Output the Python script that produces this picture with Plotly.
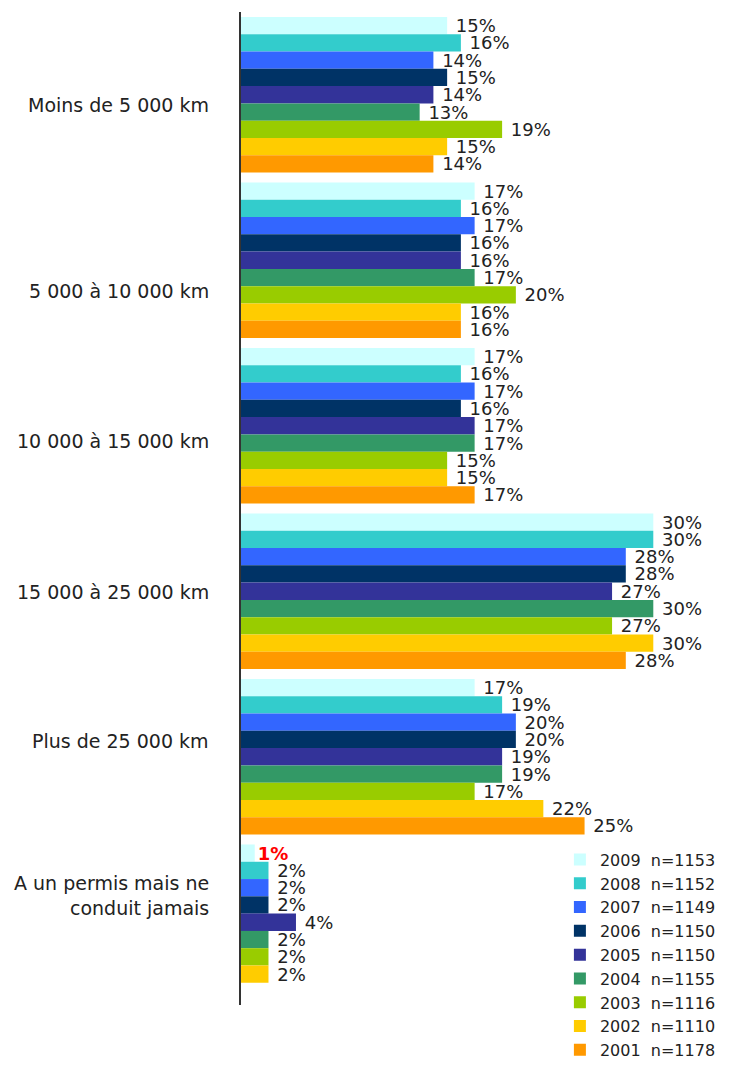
import plotly.graph_objects as go

categories = [
    "Moins de 5 000 km",
    "5 000 à 10 000 km",
    "10 000 à 15 000 km",
    "15 000 à 25 000 km",
    "Plus de 25 000 km",
    "A un permis mais ne<br>conduit jamais",
]

series_names = [
    "2009  n=1153",
    "2008  n=1152",
    "2007  n=1149",
    "2006  n=1150",
    "2005  n=1150",
    "2004  n=1155",
    "2003  n=1116",
    "2002  n=1110",
    "2001  n=1178",
]

v2009 = [15, 17, 17, 30, 17, 1]
v2008 = [16, 16, 16, 30, 19, 2]
v2007 = [14, 17, 17, 28, 20, 2]
v2006 = [15, 16, 16, 28, 20, 2]
v2005 = [14, 16, 17, 27, 19, 4]
v2004 = [13, 17, 17, 30, 19, 2]
v2003 = [19, 20, 15, 27, 17, 2]
v2002 = [15, 16, 15, 30, 22, 2]
v2001 = [14, 16, 17, 28, 25, None]

series_values = [v2009, v2008, v2007, v2006, v2005, v2004, v2003, v2002, v2001]

colors = ["#CCFFFF", "#33CCCC", "#3366FF", "#003366", "#333399",
          "#339966", "#99CC00", "#FFCC00", "#FF9900"]

# vertical offsets of the category labels (pixels, positive = down)
label_offsets = [10, 31, 15, 1, -16, -27]

FONT = "DejaVu Sans"
NB = "\u00a0"

fig = go.Figure()
for name, vals, col in zip(series_names, series_values, colors):
    texts = []
    tcolors = []
    for v in vals:
        if v is None:
            texts.append("")
            tcolors.append("#222222")
        elif v <= 1:
            texts.append("<b>%d%%</b>" % v)
            tcolors.append("#FF0000")
        else:
            texts.append(NB + "%d%%" % v)
            tcolors.append("#222222")
    fig.add_trace(go.Bar(
        y=categories, x=vals, orientation="h", name=name,
        marker=dict(color=col, line=dict(width=0)),
        text=texts, textposition="outside", constraintext="none",
        cliponaxis=False,
        textfont=dict(family=FONT, size=18, color=tcolors),
        hoverinfo="skip",
    ))

for cat, off in zip(categories, label_offsets):
    fig.add_annotation(
        x=0, xref="paper", xanchor="right", xshift=-30,
        y=cat, yref="y", yshift=-off,
        text=cat, showarrow=False, align="right",
        font=dict(family=FONT, size=19, color="#222222"),
    )

# the page body adds an 8px offset, margins compensate for it
fig.update_layout(
    width=731, height=1068,
    margin=dict(l=233, r=17, t=4, b=71, autoexpand=False),
    paper_bgcolor="white", plot_bgcolor="white",
    barmode="group", bargap=0.06, bargroupgap=0,
    font=dict(family=FONT, size=18, color="#222222"),
    showlegend=True,
    legend=dict(
        x=0.663, y=-0.063, xanchor="left", yanchor="bottom",
        font=dict(family=FONT, size=16, color="#222222"),
        bgcolor="rgba(0,0,0,0)", tracegroupgap=0,
        itemclick=False, itemwidth=30,
    ),
    xaxis=dict(range=[0, 35], visible=False, showgrid=False, zeroline=False),
    yaxis=dict(
        categoryorder="array", categoryarray=categories,
        autorange="reversed", showticklabels=False, ticks="",
        showgrid=False, zeroline=False,
        showline=True, linecolor="#333333", linewidth=2,
    ),
)

fig.write_html("out.html")
